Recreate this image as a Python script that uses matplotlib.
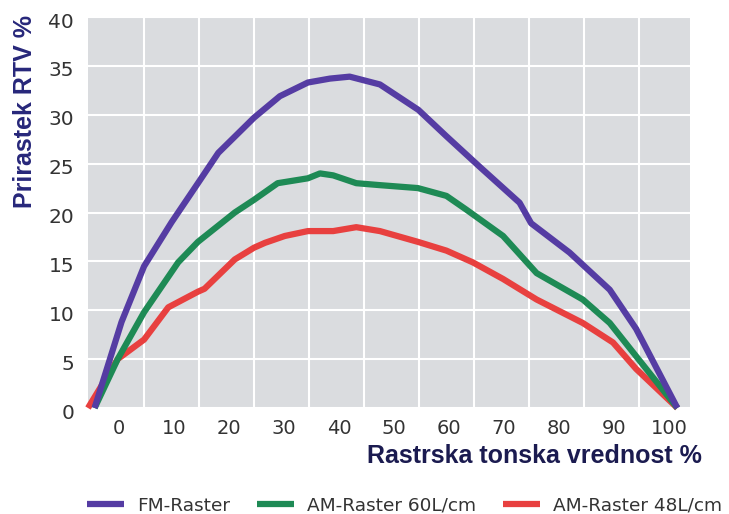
import numpy as np
import matplotlib
matplotlib.use('Agg')
import matplotlib.pyplot as plt
from matplotlib.transforms import ScaledTranslation

# values
fm_x = [-4.5, 0.4, 4.5, 9.5, 14.3, 18, 24.5, 29.2, 34.3, 38.3, 41.9, 47.4, 54.4,
        59.5, 65.5, 72.8, 74.9, 81.9, 89.2, 94, 101.5]
fm_y = [0, 8.8, 14.5, 19.0, 23.0, 26.1, 29.7, 31.9, 33.3, 33.7, 33.9, 33.1, 30.5,
        27.8, 24.7, 21.0, 18.9, 15.9, 12.1, 8.1, 0]

am60_x = [-4.5, -0.3, 4.5, 10.7, 14.3, 21, 24.5, 28.8, 34.3, 36.5, 38.9, 43.1, 47.4,
          54.3, 59.5, 63.1, 69.8, 75.9, 84.3, 89.2, 94, 101.5]
am60_y = [0, 5.0, 9.8, 14.9, 17.0, 20.0, 21.3, 23.0, 23.5, 24.0, 23.8, 23.0, 22.8,
          22.5, 21.7, 20.3, 17.6, 13.8, 11.1, 8.7, 5.3, 0]

am48_x = [-5.7, -0.3, 4.5, 8.9, 14.3, 15.5, 21, 24.5, 26.5, 30.1, 34.3, 38.9, 43.1,
          47.4, 54.3, 59.5, 64.3, 69.8, 75.9, 84.3, 89.8, 94, 101.5]
am48_y = [0, 5.0, 7.0, 10.3, 11.9, 12.2, 15.2, 16.4, 16.9, 17.6, 18.1, 18.1, 18.5,
          18.1, 17.0, 16.1, 14.9, 13.2, 11.1, 8.7, 6.7, 4.0, 0]

x_ticks = list(range(0, 101, 10))
y_ticks = list(range(0, 41, 5))

fig = plt.figure(figsize=(7.29, 5.14), dpi=100)
ax = fig.add_axes([0.1207, 0.2062, 0.8258, 0.7607])
ax.set_facecolor('#dadcdf')
for s in ax.spines.values():
    s.set_visible(False)

line_kw = dict(lw=4.5, clip_on=False, solid_capstyle='butt', solid_joinstyle='round')
ax.plot(am48_x, am48_y, color='#e8403f', label='AM-Raster 48L/cm', zorder=3, **line_kw)
ax.plot(am60_x, am60_y, color='#1e8a55', label='AM-Raster 60L/cm', zorder=4, **line_kw)
ax.plot(fm_x, fm_y, color='#553ca3', label='FM-Raster', zorder=5, **line_kw)

ax.set_xlim(-5.7, 103.8)
ax.set_ylim(0, 40)

# labels sit on 0..100, white grid lines are shifted by 4.5
ax.set_xticks(x_ticks)
ax.set_xticks(np.arange(4.5, 95, 10), minor=True)
ax.set_yticks(y_ticks)
ax.grid(which='minor', axis='x', color='white', lw=1.5)
ax.grid(which='major', axis='y', color='white', lw=1.5)
ax.set_axisbelow(True)
ax.tick_params(which='both', length=0)
ax.tick_params(axis='x', pad=8, labelsize=14, labelcolor='#333333')
ax.tick_params(axis='y', pad=10, labelsize=14.5, labelcolor='#333333')
for lab in ax.get_yticklabels():
    lab.set_transform(lab.get_transform() + ScaledTranslation(0, -0.03, fig.dpi_scale_trans))

fig.text(25 / 729, 1 - 111 / 514, 'Prirastek RTV %', rotation=90, ha='center', va='center',
         fontsize=18, fontweight='bold', color='#27277a', family='Liberation Sans')
fig.text(702 / 729, 1 - 456 / 514, 'Rastrska tonska vrednost %', ha='right', va='center',
         fontsize=18, fontweight='bold', color='#1b1b50', family='Liberation Sans')

handles, labels = ax.get_legend_handles_labels()
ax.legend(handles[::-1], labels[::-1], ncol=3, frameon=False, loc='center',
          bbox_to_anchor=(0.555, 0.016), bbox_transform=fig.transFigure,
          fontsize=13.3, handlelength=2.0, handletextpad=0.72, columnspacing=1.45,
          labelcolor='#333333', borderpad=0)

plt.savefig('out.png', dpi=100)
